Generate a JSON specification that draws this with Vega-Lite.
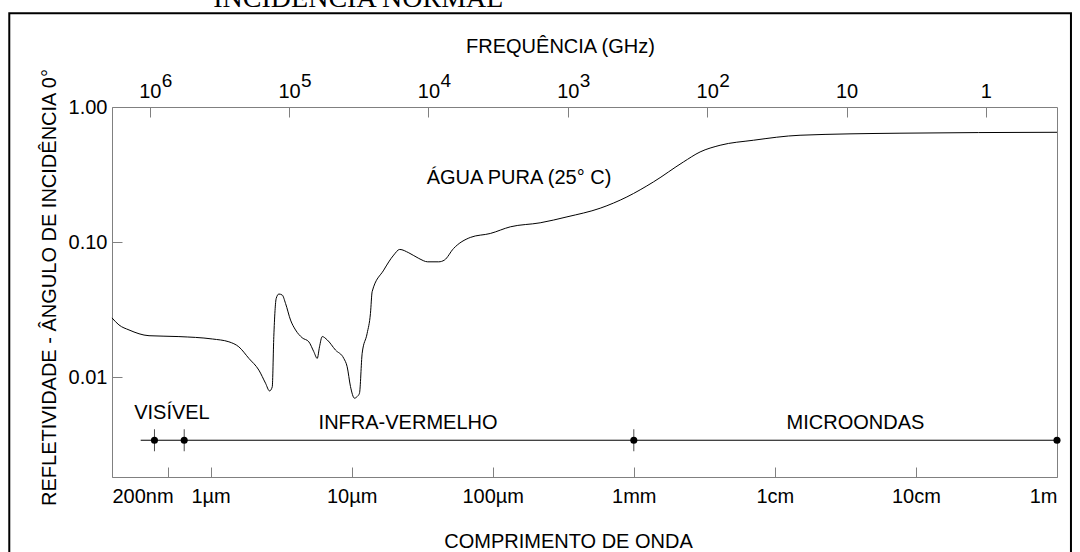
{
  "$schema": "https://vega.github.io/schema/vega-lite/v6.json",
  "width": 945,
  "height": 370,
  "autosize": {"type": "none"},
  "padding": {"left": 112, "top": 107, "right": 23, "bottom": 75},
  "background": "white",
  "config": {
    "view": {"stroke": "#808080", "strokeWidth": 1},
    "font": "Liberation Sans",
    "axis": {
      "grid": false,
      "domain": false,
      "tickColor": "#808080",
      "tickSize": -10,
      "labelFont": "Liberation Sans",
      "labelFontSize": 20,
      "labelColor": "black",
      "titleFont": "Liberation Sans",
      "titleFontSize": 20,
      "titleFontWeight": "normal",
      "titleColor": "black",
      "labelOverlap": false
    },
    "text": {"font": "Liberation Sans", "fontSize": 20, "color": "black"}
  },
  "layer": [
    {
      "layer": [
        {
          "data": {"values": [
            {"lambda": 0.2, "R": 0.0275}, {"lambda": 0.224, "R": 0.0244}, {"lambda": 0.264, "R": 0.0224},
            {"lambda": 0.366, "R": 0.0203}, {"lambda": 0.596, "R": 0.0200}, {"lambda": 1.028, "R": 0.0192},
            {"lambda": 1.348, "R": 0.0183}, {"lambda": 1.585, "R": 0.0168}, {"lambda": 1.867, "R": 0.0138},
            {"lambda": 2.198, "R": 0.0113}, {"lambda": 2.452, "R": 0.00903}, {"lambda": 2.618, "R": 0.00792},
            {"lambda": 2.735, "R": 0.00848}, {"lambda": 2.806, "R": 0.0200}, {"lambda": 2.919, "R": 0.0384},
            {"lambda": 3.046, "R": 0.0413}, {"lambda": 3.22, "R": 0.0406}, {"lambda": 3.398, "R": 0.0352},
            {"lambda": 3.687, "R": 0.0265}, {"lambda": 4.0, "R": 0.0224}, {"lambda": 4.459, "R": 0.0196},
            {"lambda": 4.97, "R": 0.0183}, {"lambda": 5.39, "R": 0.01546}, {"lambda": 5.70, "R": 0.0138},
            {"lambda": 5.916, "R": 0.0168}, {"lambda": 6.18, "R": 0.0200}, {"lambda": 6.71, "R": 0.0189},
            {"lambda": 7.68, "R": 0.0159}, {"lambda": 8.79, "R": 0.0138}, {"lambda": 9.29, "R": 0.01197},
            {"lambda": 9.81, "R": 0.00853}, {"lambda": 10.47, "R": 0.0070}, {"lambda": 10.94, "R": 0.0072},
            {"lambda": 11.36, "R": 0.00762}, {"lambda": 11.87, "R": 0.01504}, {"lambda": 12.87, "R": 0.0211},
            {"lambda": 13.59, "R": 0.0297}, {"lambda": 13.97, "R": 0.0430}, {"lambda": 16.88, "R": 0.0621},
            {"lambda": 19.86, "R": 0.0802}, {"lambda": 21.9, "R": 0.0883}, {"lambda": 25.4, "R": 0.0834},
            {"lambda": 29.9, "R": 0.0758}, {"lambda": 34.6, "R": 0.0715}, {"lambda": 41.4, "R": 0.0715},
            {"lambda": 45.4, "R": 0.0736}, {"lambda": 52.8, "R": 0.0898}, {"lambda": 69.3, "R": 0.1083},
            {"lambda": 96.1, "R": 0.1159}, {"lambda": 133.3, "R": 0.1298}, {"lambda": 217, "R": 0.139},
            {"lambda": 336, "R": 0.1538}, {"lambda": 578, "R": 0.1783}, {"lambda": 893, "R": 0.216},
            {"lambda": 1378, "R": 0.279}, {"lambda": 2248, "R": 0.392}, {"lambda": 2951, "R": 0.465},
            {"lambda": 4090, "R": 0.521}, {"lambda": 7046, "R": 0.5675}, {"lambda": 15080, "R": 0.618},
            {"lambda": 77090, "R": 0.640}, {"lambda": 1000000, "R": 0.650}
          ]},
          "mark": {"type": "line", "color": "black", "strokeWidth": 1, "interpolate": "monotone"},
          "encoding": {
            "x": {
              "field": "lambda", "type": "quantitative",
              "scale": {"type": "log", "domain": [0.2, 1000000], "nice": false},
              "axis": {
                "orient": "bottom",
                "values": [0.2, 0.5, 1, 10, 100, 1000, 10000, 100000, 1000000],
                "labelExpr": "datum.value == 0.2 ? '200nm' : datum.value == 1 ? '1µm' : datum.value == 10 ? '10µm' : datum.value == 100 ? '100µm' : datum.value == 1000 ? '1mm' : datum.value == 10000 ? '1cm' : datum.value == 100000 ? '10cm' : datum.value == 1000000 ? '1m' : ''",
                "labelFlush": true,
                "labelPadding": 19,
                "title": "COMPRIMENTO DE ONDA",
                "titleX": 456,
                "titleY": 70,
                "titleBaseline": "alphabetic",
                "titleAlign": "center"
              }
            },
            "y": {
              "field": "R", "type": "quantitative",
              "scale": {"type": "log", "domain": [0.001828, 1], "nice": false},
              "axis": {
                "values": [0.01, 0.1, 1],
                "format": ".2f",
                "labelPadding": 15,
                "title": "REFLETIVIDADE - ÂNGULO DE INCIDÊNCIA 0°",
                "titleX": -57,
                "titleY": 180,
                "titleAngle": 270,
                "titleAlign": "center",
                "titleBaseline": "alphabetic"
              }
            }
          }
        },
        {
          "data": {"values": [{}]},
          "mark": {"type": "rule", "color": "black", "strokeWidth": 1},
          "encoding": {
            "x": {"datum": 0.3195, "type": "quantitative", "scale": {"type": "log", "domain": [0.2, 1000000], "nice": false}},
            "x2": {"datum": 1000000},
            "y": {"datum": 0.00342, "type": "quantitative", "scale": {"type": "log", "domain": [0.001828, 1], "nice": false}}
          }
        },
        {
          "data": {"values": [{"lambda": 0.4}, {"lambda": 0.65}, {"lambda": 1000}]},
          "mark": {"type": "tick", "orient": "vertical", "size": 22, "thickness": 1, "color": "black"},
          "encoding": {
            "x": {"field": "lambda", "type": "quantitative", "scale": {"type": "log", "domain": [0.2, 1000000], "nice": false}},
            "y": {"datum": 0.00342, "type": "quantitative", "scale": {"type": "log", "domain": [0.001828, 1], "nice": false}}
          }
        },
        {
          "data": {"values": [{"lambda": 0.4}, {"lambda": 0.65}, {"lambda": 1000}, {"lambda": 1000000}]},
          "mark": {"type": "point", "filled": true, "size": 50, "color": "black", "opacity": 1},
          "encoding": {
            "x": {"field": "lambda", "type": "quantitative", "scale": {"type": "log", "domain": [0.2, 1000000], "nice": false}},
            "y": {"datum": 0.00342, "type": "quantitative", "scale": {"type": "log", "domain": [0.001828, 1], "nice": false}}
          }
        },
        {
          "data": {"values": [
            {"label": "VISÍVEL", "lambda": 0.532, "R": 0.00544},
            {"label": "INFRA-VERMELHO", "lambda": 25.1, "R": 0.00457},
            {"label": "MICROONDAS", "lambda": 37240, "R": 0.0046},
            {"label": "ÁGUA PURA (25° C)", "lambda": 153.5, "R": 0.2968}
          ]},
          "mark": {"type": "text", "align": "center", "baseline": "middle", "fontSize": 20},
          "encoding": {
            "x": {"field": "lambda", "type": "quantitative", "scale": {"type": "log", "domain": [0.2, 1000000], "nice": false}},
            "y": {"field": "R", "type": "quantitative", "scale": {"type": "log", "domain": [0.001828, 1], "nice": false}},
            "text": {"field": "label"}
          }
        },
        {
          "data": {"values": [{"label": "INCIDÊNCIA NORMAL"}]},
          "mark": {"type": "text", "align": "left", "baseline": "alphabetic", "font": "Liberation Serif", "fontSize": 28},
          "encoding": {
            "x": {"datum": 1.045, "type": "quantitative", "scale": {"type": "log", "domain": [0.2, 1000000], "nice": false}},
            "y": {"datum": 5.47, "type": "quantitative", "scale": {"type": "log", "domain": [0.001828, 1], "nice": false}},
            "text": {"field": "label"}
          }
        },
        {
          "data": {"values": [{}]},
          "mark": {"type": "rect", "fillOpacity": 0, "stroke": "black", "strokeWidth": 2},
          "encoding": {
            "x": {"datum": 0.0374, "type": "quantitative", "scale": {"type": "log", "domain": [0.2, 1000000], "nice": false}},
            "x2": {"datum": 1256000},
            "y": {"datum": 4.93, "type": "quantitative", "scale": {"type": "log", "domain": [0.001828, 1], "nice": false}},
            "y2": {"datum": 0.000445}
          }
        }
      ]
    },
    {
      "data": {"values": [
        {"f": 1000000, "e": "6"}, {"f": 100000, "e": "5"}, {"f": 10000, "e": "4"},
        {"f": 1000, "e": "3"}, {"f": 100, "e": "2"}
      ]},
      "mark": {"type": "text", "align": "left", "baseline": "alphabetic", "fontSize": 19, "dx": 12},
      "encoding": {
        "x": {
          "field": "f", "type": "quantitative",
          "scale": {"type": "log", "domain": [0.309, 1866000], "reverse": true, "nice": false},
          "axis": {
            "orient": "top",
            "values": [1, 10, 100, 1000, 10000, 100000, 1000000],
            "labelExpr": "datum.value >= 10 ? '10' : '1'",
            "labelBaseline": "alphabetic",
            "labelPadding": 19.5,
            "labelFlush": false,
            "title": "FREQUÊNCIA (GHz)",
            "titleX": 448,
            "titleY": -55,
            "titleBaseline": "alphabetic",
            "titleAlign": "center"
          }
        },
        "y": {"datum": 1.399, "type": "quantitative", "scale": {"type": "log", "domain": [0.001828, 1], "nice": false}},
        "text": {"field": "e"}
      }
    }
  ],
  "resolve": {"scale": {"x": "independent"}, "axis": {"x": "independent"}}
}
